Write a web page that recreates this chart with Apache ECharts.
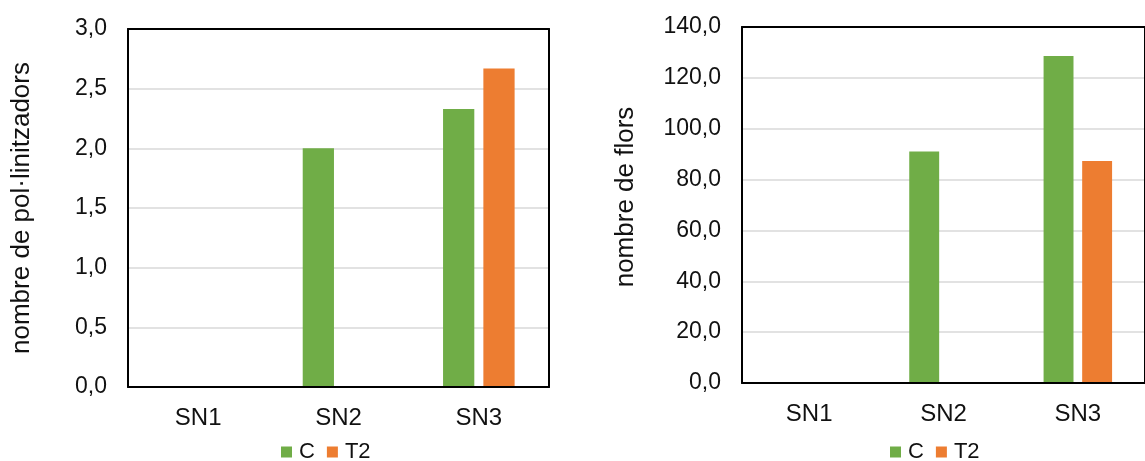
<!DOCTYPE html>
<html>
<head>
<meta charset="utf-8">
<script src="https://cdn.jsdelivr.net/npm/echarts@6/dist/echarts.min.js"></script>
<style>
  html, body { margin: 0; padding: 0; background: #fff; }
  #chart { width: 1145px; height: 461px; }
</style>
</head>
<body>
<div id="chart"></div>
<script>
const categories = ['SN1', 'SN2', 'SN3'];
const seriesNames = ['C', 'T2'];
// Left chart: nombre de pol·linitzadors
const pollC = [0, 2.0, 2.33];
const pollT2 = [0, 0, 2.67];
// Right chart: nombre de flors
const florsC = [0, 91.0, 128.6];
const florsT2 = [0, 0, 87.3];

const FONT = 'Liberation Sans, Arial, sans-serif';
const TXT = '#111';
const GREEN = '#70AD47';
const ORANGE = '#ED7D31';

function fmt(v) { return v.toFixed(1).replace('.', ','); }

// main (left) value axis: labels, name and black left border, drawn above everything
function yAxis(gridIndex, max, interval, name, gap, pad) {
  return {
    type: 'value', gridIndex, min: 0, max, interval, z: 10,
    name, nameLocation: 'middle', nameGap: gap, nameRotate: 90,
    nameTextStyle: { fontFamily: FONT, fontSize: 26, color: TXT, padding: pad },
    axisLine: { show: true, onZero: false, lineStyle: { color: '#000', width: 2 } },
    axisTick: { show: false },
    axisLabel: { formatter: fmt, fontFamily: FONT, fontSize: 23, color: TXT, margin: 21 },
    splitLine: { show: false }
  };
}
// secondary (right) value axis: gridlines below bars and right border
function yAxisRight(gridIndex, max, interval) {
  return {
    type: 'value', gridIndex, position: 'right', min: 0, max, interval, z: 0,
    axisLine: { show: true, onZero: false, lineStyle: { color: '#000', width: 2 } },
    axisTick: { show: false }, axisLabel: { show: false },
    splitLine: { show: true, lineStyle: { color: '#d9d9d9', width: 1.5 } }
  };
}
function xAxis(gridIndex) {
  return {
    type: 'category', gridIndex, data: categories, z: 10,
    axisLine: { show: true, onZero: false, lineStyle: { color: '#000', width: 2 } },
    axisTick: { show: false },
    axisLabel: { fontFamily: FONT, fontSize: 24, color: TXT, margin: 19 }
  };
}
function xAxisTop(gridIndex) {
  return {
    type: 'category', gridIndex, position: 'top', data: categories, z: 10,
    axisLine: { show: true, onZero: false, lineStyle: { color: '#000', width: 2 } },
    axisTick: { show: false }, axisLabel: { show: false }, splitLine: { show: false }
  };
}
function bar(name, data, color, idx) {
  return {
    type: 'bar', name, data, xAxisIndex: idx, yAxisIndex: idx,
    barGap: '29%', barCategoryGap: '49%',
    itemStyle: { color, borderWidth: 0 }
  };
}
function legend(left) {
  return {
    left, top: 441, padding: 0, icon: 'rect', itemWidth: 11, itemHeight: 11, itemGap: 12,
    data: seriesNames,
    textStyle: { fontFamily: FONT, fontSize: 22, color: TXT, lineHeight: 21, padding: [0, 0, 0, 2] }
  };
}

const chart = echarts.init(document.getElementById('chart'), null, { renderer: 'canvas' });
chart.setOption({
  animation: false,
  backgroundColor: '#fff',
  color: [GREEN, ORANGE],
  grid: [
    { left: 128, top: 29, width: 421, height: 358 },
    { left: 742, top: 27, width: 414, height: 356 }
  ],
  legend: [legend(281), legend(890)],
  xAxis: [xAxis(0), xAxis(1), xAxisTop(0), xAxisTop(1)],
  yAxis: [
    yAxis(0, 3, 0.5, 'nombre de pol·linitzadors', 93, [0, 0, 0, 0]),
    yAxis(1, 140, 20, 'nombre de flors', 103, [0, 0, 0, 16]),
    yAxisRight(0, 3, 0.5),
    yAxisRight(1, 140, 20)
  ],
  series: [
    bar('C', pollC, GREEN, 0),
    bar('T2', pollT2, ORANGE, 0),
    bar('C', florsC, GREEN, 1),
    bar('T2', florsT2, ORANGE, 1)
  ]
});
</script>
</body>
</html>
